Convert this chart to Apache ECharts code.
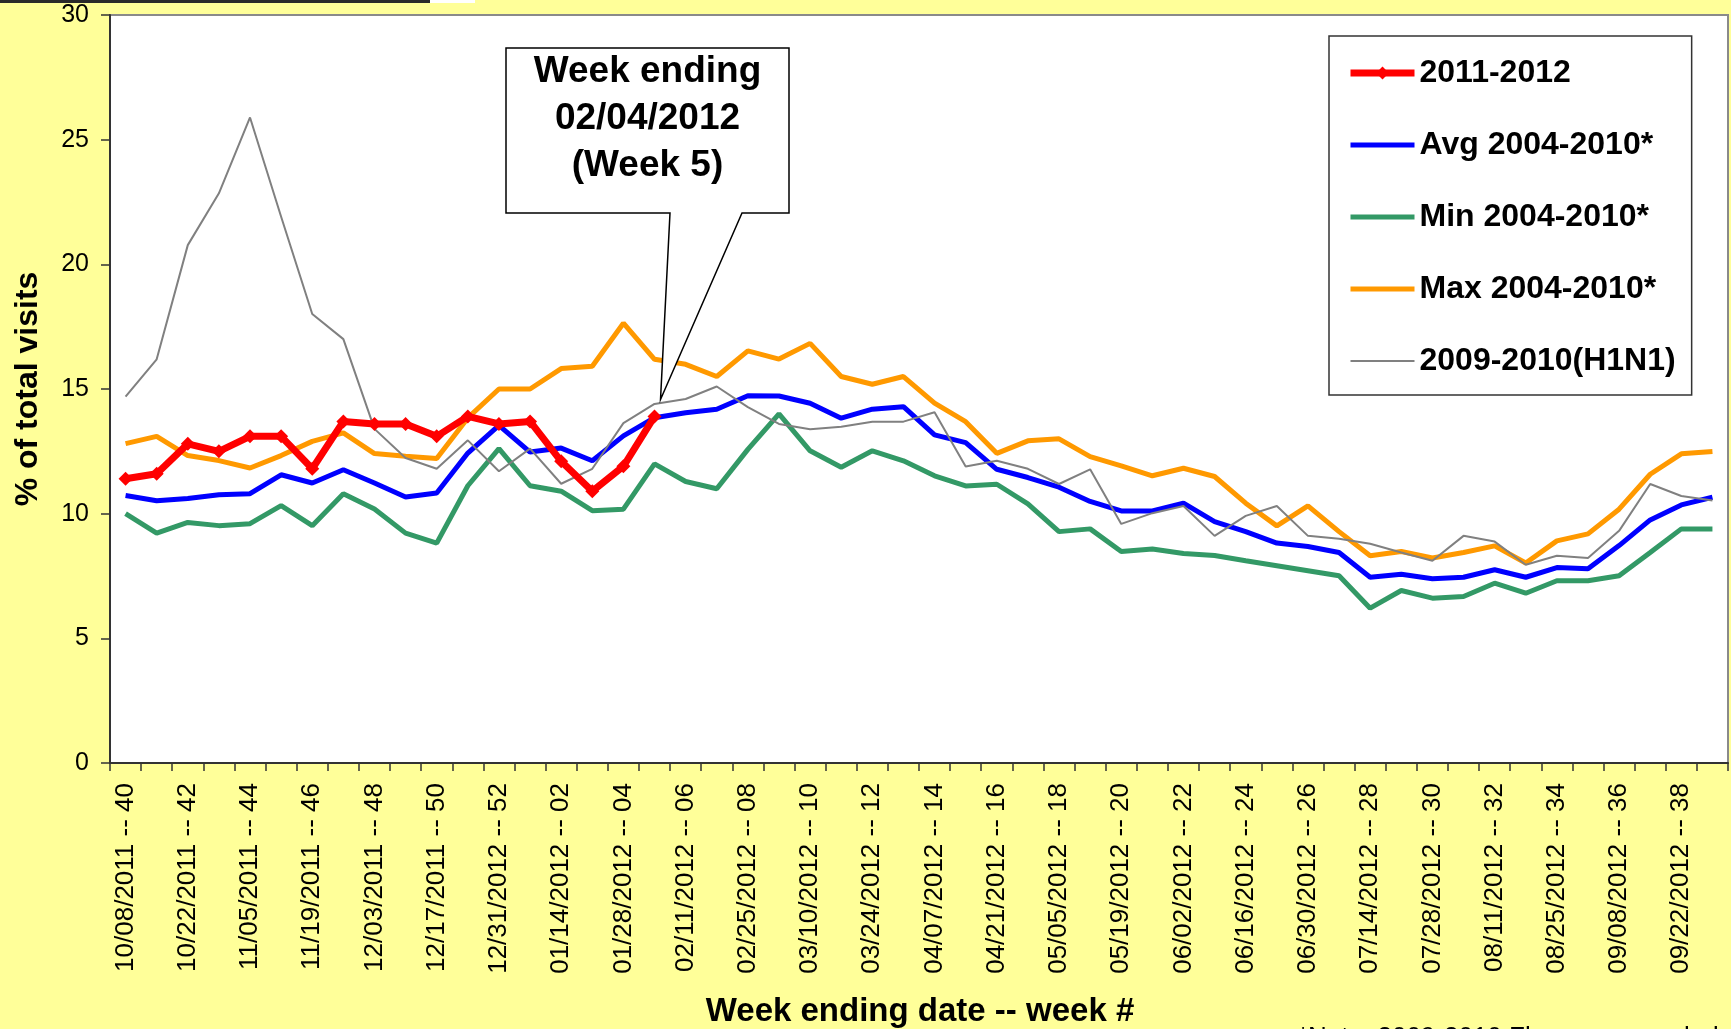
<!DOCTYPE html>
<html>
<head>
<meta charset="utf-8">
<script src="https://cdn.jsdelivr.net/npm/echarts@6/dist/echarts.min.js"></script>
<style>
html,body{margin:0;padding:0;background:#FFFF99;}
#c{width:1731px;height:1029px;}
</style>
</head>
<body>
<div id="c"></div>
<script>
const weekDates = ['10/08/2011','10/15/2011','10/22/2011','10/29/2011','11/05/2011','11/12/2011','11/19/2011','11/26/2011','12/03/2011','12/10/2011','12/17/2011','12/24/2011','12/31/2012',
'01/07/2012','01/14/2012','01/21/2012','01/28/2012','02/04/2012','02/11/2012','02/18/2012','02/25/2012','03/03/2012','03/10/2012','03/17/2012','03/24/2012','03/31/2012',
'04/07/2012','04/14/2012','04/21/2012','04/28/2012','05/05/2012','05/12/2012','05/19/2012','05/26/2012','06/02/2012','06/09/2012','06/16/2012','06/23/2012','06/30/2012',
'07/07/2012','07/14/2012','07/21/2012','07/28/2012','08/04/2012','08/11/2012','08/18/2012','08/25/2012','09/01/2012','09/08/2012','09/15/2012','09/22/2012','09/29/2012'];
const weekNums = ['40','41','42','43','44','45','46','47','48','49','50','51','52',
'01','02','03','04','05','06','07','08','09','10','11','12','13','14','15','16','17','18','19','20','21','22','23','24','25','26',
'27','28','29','30','31','32','33','34','35','36','37','38','39'];

const season2011 = [11.4,11.6,12.8,12.5,13.1,13.1,11.8,13.7,13.6,13.6,13.1,13.9,13.6,13.7,12.1,10.9,11.9,13.9];
const avg0410 = [10.73,10.52,10.61,10.76,10.8,11.56,11.23,11.76,11.23,10.67,10.83,12.43,13.54,12.47,12.63,12.12,
13.12,13.85,14.05,14.19,14.73,14.72,14.43,13.83,14.19,14.29,13.16,12.85,11.78,11.45,11.06,10.49,10.11,10.11,10.42,
9.68,9.28,8.82,8.68,8.44,7.45,7.57,7.39,7.45,7.75,7.45,7.84,7.79,8.72,9.75,10.35,10.66];
const min0410 = [10.0,9.22,9.65,9.52,9.6,10.32,9.52,10.8,10.19,9.22,8.82,11.12,12.61,11.12,10.9,10.12,
10.18,12.0,11.29,11.0,12.58,14.0,12.52,11.86,12.52,12.12,11.52,11.11,11.18,10.39,9.28,9.39,8.48,8.58,8.4,
8.32,8.11,7.91,7.71,7.51,6.21,6.92,6.61,6.68,7.21,6.81,7.31,7.31,7.51,8.44,9.39,9.39];
const max0410 = [12.81,13.1,12.33,12.13,11.83,12.33,12.9,13.24,12.41,12.3,12.21,13.84,15.0,15.0,15.82,15.91,
17.64,16.19,15.99,15.5,16.53,16.2,16.83,15.5,15.19,15.5,14.43,13.69,12.42,12.92,13.0,12.29,11.92,11.52,11.82,
11.49,10.42,9.51,10.31,9.28,8.31,8.48,8.22,8.44,8.71,8.02,8.91,9.19,10.18,11.58,12.4,12.49];
const h1n1 = [14.69,16.19,20.77,22.85,25.89,21.91,18.01,17.0,13.4,12.23,11.8,12.94,11.7,12.61,11.2,11.8,
13.63,14.4,14.6,15.1,14.27,13.6,13.39,13.49,13.69,13.69,14.07,11.89,12.12,11.8,11.19,11.78,9.59,10.02,10.31,
9.11,9.91,10.31,9.11,8.99,8.79,8.44,8.11,9.11,8.88,7.95,8.31,8.22,9.31,11.19,10.71,10.53];

const yTicks = {min: 0, max: 30, step: 5};
const seriesNames = ['2011-2012','Avg 2004-2010*','Min 2004-2010*','Max 2004-2010*','2009-2010(H1N1)'];
const calloutLines = ['Week ending','02/04/2012','(Week 5)'];
const calloutIndex = 17;

const categories = weekDates.map((d, i) => d + ' -- ' + weekNums[i]);
const redData = categories.map((c, i) => i < season2011.length ? season2011[i] : null);

const chart = echarts.init(document.getElementById('c'), null, {renderer: 'canvas'});
const FONT = 'Liberation Sans, Arial, sans-serif';

chart.setOption({
  animation: false,
  backgroundColor: '#FFFF99',
  grid: {left: 110, right: 3, top: 15, bottom: 266, show: true, backgroundColor: '#ffffff', borderColor: '#8a8a8a', borderWidth: 2},
  legend: {
    data: [
      {name: seriesNames[0], lineStyle: {width: 7}},
      {name: seriesNames[1], lineStyle: {width: 5}, itemStyle: {opacity: 0}},
      {name: seriesNames[2], lineStyle: {width: 5}, itemStyle: {opacity: 0}},
      {name: seriesNames[3], lineStyle: {width: 5}, itemStyle: {opacity: 0}},
      {name: seriesNames[4], lineStyle: {width: 2}, itemStyle: {opacity: 0}}
    ],
    orient: 'vertical',
    left: 1329, top: 36,
    padding: [21, 16, 18, 18],
    itemGap: 40,
    itemWidth: 64,
    itemHeight: 16,
    backgroundColor: '#ffffff',
    borderColor: '#333',
    borderWidth: 1.5,
    borderRadius: 0,
    textStyle: {fontFamily: FONT, fontWeight: 'bold', fontSize: 32, lineHeight: 32, color: '#000'}
  },
  xAxis: {
    type: 'category',
    data: categories,
    boundaryGap: true,
    axisLine: {lineStyle: {color: '#333', width: 2}},
    axisTick: {show: true, interval: 0, length: 8, lineStyle: {color: '#333', width: 1.5}},
    axisLabel: {interval: 1, rotate: 90, fontFamily: FONT, fontSize: 26, color: '#000', margin: 20},
    splitLine: {show: false}
  },
  yAxis: {
    type: 'value',
    min: yTicks.min, max: yTicks.max, interval: yTicks.step,
    axisLine: {show: true, lineStyle: {color: '#333', width: 2}},
    axisTick: {show: true, length: 9, lineStyle: {color: '#333', width: 1.5}},
    axisLabel: {fontFamily: FONT, fontSize: 25, color: '#000', margin: 21},
    splitLine: {show: false}
  },
  series: [
    {name: seriesNames[3], type: 'line', data: max0410, symbol: 'none', lineStyle: {color: '#FF9900', width: 5}, itemStyle: {color: '#FF9900'}},
    {name: seriesNames[2], type: 'line', data: min0410, symbol: 'none', lineStyle: {color: '#339966', width: 5}, itemStyle: {color: '#339966'}},
    {name: seriesNames[1], type: 'line', data: avg0410, symbol: 'none', lineStyle: {color: '#0000FF', width: 5}, itemStyle: {color: '#0000FF'}},
    {name: seriesNames[4], type: 'line', data: h1n1, symbol: 'none', lineStyle: {color: '#808080', width: 2}, itemStyle: {color: '#808080'}},
    {name: seriesNames[0], type: 'line', data: redData, symbol: 'diamond', symbolSize: 14, showSymbol: true,
     lineStyle: {color: '#FF0000', width: 7}, itemStyle: {color: '#FF0000'}}
  ]
});

const tip = chart.convertToPixel({seriesIndex: 4}, [calloutIndex, season2011[calloutIndex]]);
const tx = tip[0] + 6, ty = tip[1] - 17;
const bx0 = 506, bx1 = 789, by0 = 48, by1 = 213;

chart.setOption({
  graphic: [
    {type: 'rect', shape: {x: 0, y: 0, width: 430, height: 3}, style: {fill: '#2a2a2a'}, z: 100},
    {type: 'rect', shape: {x: 430, y: 0, width: 45, height: 3}, style: {fill: '#ffffff'}, z: 100},
    {type: 'polygon', shape: {points: [[bx0, by0], [bx1, by0], [bx1, by1], [742, by1], [tx, ty], [670, by1], [bx0, by1]]},
     style: {fill: '#ffffff', stroke: '#000', lineWidth: 1.5}, z: 100},
    {type: 'text', x: (bx0 + bx1) / 2, y: 72, z: 101, style: {text: calloutLines[0], font: 'bold 37px ' + FONT, fill: '#000', textAlign: 'center', textVerticalAlign: 'middle'}},
    {type: 'text', x: (bx0 + bx1) / 2, y: 119, z: 101, style: {text: calloutLines[1], font: 'bold 37px ' + FONT, fill: '#000', textAlign: 'center', textVerticalAlign: 'middle'}},
    {type: 'text', x: (bx0 + bx1) / 2, y: 166, z: 101, style: {text: calloutLines[2], font: 'bold 37px ' + FONT, fill: '#000', textAlign: 'center', textVerticalAlign: 'middle'}},
    {type: 'text', x: 28, y: 389, rotation: Math.PI / 2, z: 101, style: {text: '% of total visits', font: 'bold 32px ' + FONT, fill: '#000', textAlign: 'center', textVerticalAlign: 'middle'}},
    {type: 'text', x: 920, y: 1012, z: 101, style: {text: 'Week ending date -- week #', font: 'bold 33px ' + FONT, fill: '#000', textAlign: 'center', textVerticalAlign: 'middle'}},
    {type: 'text', x: 1298, y: 1025, z: 101, style: {text: '*Note: 2009-2010 Flu season excluded', font: '26px ' + FONT, fill: '#000', textAlign: 'left', textVerticalAlign: 'top'}}
  ]
});
</script>
</body>
</html>
